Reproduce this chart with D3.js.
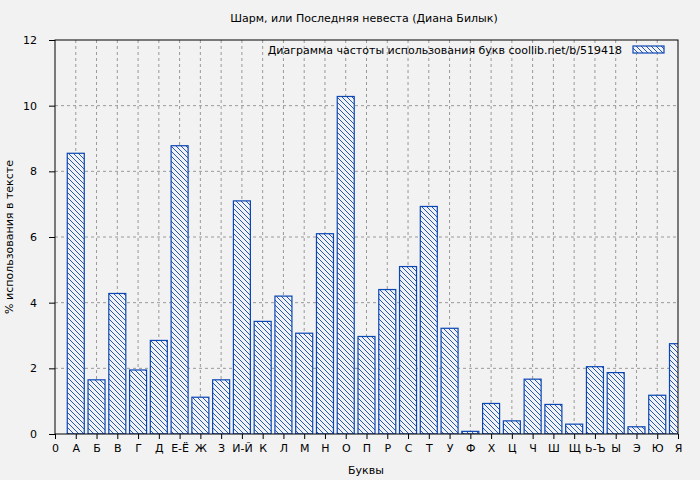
<!DOCTYPE html>
<html><head><meta charset="utf-8">
<script src="https://cdn.jsdelivr.net/npm/d3@7"></script>
<style>body{margin:0;background:#f2f2f2;}text{font-family:"DejaVu Sans",sans-serif;}</style>
</head><body><svg id="chart" width="700" height="480"></svg>
<script>
const letters = ["А","Б","В","Г","Д","Е-Ё","Ж","З","И-Й","К","Л","М","Н","О","П","Р","С","Т","У","Ф","Х","Ц","Ч","Ш","Щ","Ь-Ъ","Ы","Э","Ю","Я"];
const percents = [8.55,1.65,4.28,1.95,2.85,8.78,1.12,1.65,7.1,3.43,4.2,3.07,6.1,10.28,2.97,4.4,5.1,6.93,3.22,0.08,0.93,0.4,1.67,0.9,0.3,2.05,1.87,0.22,1.18,2.75];
const yTicks = [0,2,4,6,8,10,12];

const svg = d3.select('#chart');
const pLeft = 55, pRight = 678, pTop = 40, pBottom = 434;
const blue = "#0a46b4";

const x = d3.scaleLinear().domain([0, 30]).range([pLeft, pRight]);
const y = d3.scaleLinear().domain([0, 12]).range([pBottom, pTop]);

svg.append('rect').attr('width',700).attr('height',480).attr('fill','#f2f2f2');

const pat = svg.append('defs').append('pattern').attr('id','hatch')
    .attr('patternUnits','userSpaceOnUse').attr('width',5).attr('height',5);
pat.append('rect').attr('width',5).attr('height',5).attr('fill','#f2f2f2');
pat.append('path').attr('d','M0,0L5,5M-1,4L1,6M4,-1L6,1').attr('stroke',blue).attr('stroke-width',0.9);

svg.append('clipPath').attr('id','clip').append('rect')
    .attr('x',pLeft).attr('y',pTop).attr('width',pRight-pLeft).attr('height',pBottom-pTop);

// grid
const grid = svg.append('g').attr('stroke','#999').attr('stroke-dasharray','3,3').attr('stroke-width',1);
d3.range(1,30).forEach(function (i) {
    grid.append('line').attr('x1',x(i)).attr('x2',x(i)).attr('y1',pTop).attr('y2',pBottom);
});
yTicks.slice(1,-1).forEach(function (t) {
    grid.append('line').attr('x1',pLeft).attr('x2',pRight).attr('y1',y(t)).attr('y2',y(t));
});

// bars
const bw = 17;
svg.append('g').attr('clip-path','url(#clip)').selectAll('rect').data(percents).join('rect')
    .attr('x',(d,i)=>x(i+1)-bw/2).attr('y',d=>y(d))
    .attr('width',bw).attr('height',d=>pBottom-y(d))
    .attr('fill','url(#hatch)').attr('stroke',blue).attr('stroke-width',1.2);

// frame
svg.append('rect').attr('x',pLeft).attr('y',pTop).attr('width',pRight-pLeft).attr('height',pBottom-pTop)
    .attr('fill','none').attr('stroke','#000');

// axes
const yAxis = d3.axisLeft(y).tickValues(yTicks).tickSize(6).tickPadding(12);
svg.append('g').attr('transform','translate('+pLeft+',0)').call(yAxis)
    .call(g=>g.select('.domain').remove())
    .selectAll('text').attr('font-size',11).attr('font-family','DejaVu Sans');

const xAxis = d3.axisBottom(x).tickValues(d3.range(0,31)).tickSize(5).tickPadding(5)
    .tickFormat(i => i === 0 ? "0" : letters[i-1]);
svg.append('g').attr('transform','translate(0,'+pBottom+')').call(xAxis)
    .call(g=>g.select('.domain').remove())
    .selectAll('text').attr('font-size',11).attr('font-family','DejaVu Sans');

// titles
svg.append('text').attr('x',364).attr('y',22).attr('text-anchor','middle').attr('font-size',11)
    .text('Шарм, или Последняя невеста (Диана Билык)');
svg.append('text').attr('x',366).attr('y',474).attr('text-anchor','middle').attr('font-size',11).text('Буквы');
svg.append('text').attr('transform','translate(13,237) rotate(-90)').attr('text-anchor','middle')
    .attr('font-size',11).text('% использования в тексте');

// legend
svg.append('text').attr('x',622).attr('y',54).attr('text-anchor','end').attr('font-size',11)
    .text('Диаграмма частоты использования букв  coollib.net/b/519418');
svg.append('rect').attr('x',633).attr('y',46).attr('width',31).attr('height',7)
    .attr('fill','url(#hatch)').attr('stroke',blue).attr('stroke-width',1.2);
</script></body></html>
